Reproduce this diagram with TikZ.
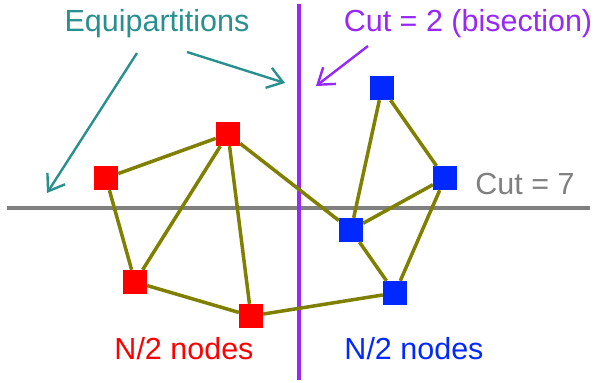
\documentclass[tikz,border=0pt]{standalone}
\usepackage{fontspec}
\setmainfont{Liberation Sans}
\usetikzlibrary{arrows.meta}
\definecolor{tealc}{RGB}{42,143,143}
\definecolor{purp}{RGB}{150,40,250}
\definecolor{olivec}{RGB}{128,128,0}
\definecolor{grayc}{RGB}{128,128,128}
\definecolor{redc}{RGB}{255,0,0}
\definecolor{bluec}{RGB}{0,40,255}
\begin{document}
\begin{tikzpicture}[x=1pt,y=-1pt,
  vtx/.style={rectangle,minimum size=24pt,inner sep=0pt},
  rv/.style={vtx,fill=redc},
  bv/.style={vtx,fill=bluec},
  edge/.style={olivec,line width=3.5pt},
  lbl/.style={font=\fontsize{30.5}{36}\selectfont,inner sep=0pt},
  pointer/.style={line width=2.4pt,-{Straight Barb[length=15pt,width=21pt,line width=2.4pt]}}
]
\useasboundingbox[fill=white] (0,0) rectangle (595,383);

% cut lines
\coordinate (hl) at (7,208);
\coordinate (hr) at (590,208);
\draw[grayc,line width=3.2pt] (hl) -- (hr);
\coordinate (vt) at (299,4);
\coordinate (vb) at (299,380);
\draw[purp,line width=3.2pt] (vt) -- (vb);

% red half
\node[rv] (r1) at (106,178) {};
\node[rv] (r2) at (228,134) {};
\node[rv] (r3) at (135,282) {};
\node[rv] (r4) at (251,316) {};
% blue half
\node[bv] (b1) at (382,88) {};
\node[bv] (b2) at (445,178) {};
\node[bv] (b3) at (351,230) {};
\node[bv] (b4) at (395,293) {};

\draw[edge] (r1) -- (r2);
\draw[edge] (r1) -- (r3);
\draw[edge] (r2) -- (r3);
\draw[edge] (r2) -- (r4);
\draw[edge] (r2) -- (b3);
\draw[edge] (r3) -- (r4);
\draw[edge] (r4) -- (b4);
\draw[edge] (b1) -- (b2);
\draw[edge] (b1) -- (b3);
\draw[edge] (b2) -- (b3);
\draw[edge] (b2) -- (b4);
\draw[edge] (b3) -- (b4);

% labels
\node[lbl,text=tealc] (eq) at (157,24) {Equipartitions};
\node[lbl,text=purp] (bis) at (468,24) {Cut = 2 (bisection)};
\node[lbl,text=grayc] (c7) at (525,184) {Cut = 7};
\node[lbl,text=redc] (nr) at (184,349) {N/2 nodes};
\node[lbl,text=bluec] (nb) at (414,349) {N/2 nodes};

% pointers
\coordinate (e1s) at (137,53);
\coordinate (e1t) at (47,193);
\coordinate (e2s) at (187,52);
\coordinate (e2t) at (285,83);
\coordinate (p1s) at (368,46);
\coordinate (p1t) at (316,86);
\draw[tealc,pointer] (e1s) -- (e1t);
\draw[tealc,pointer] (e2s) -- (e2t);
\draw[purp,pointer] (p1s) -- (p1t);
\end{tikzpicture}
\end{document}
